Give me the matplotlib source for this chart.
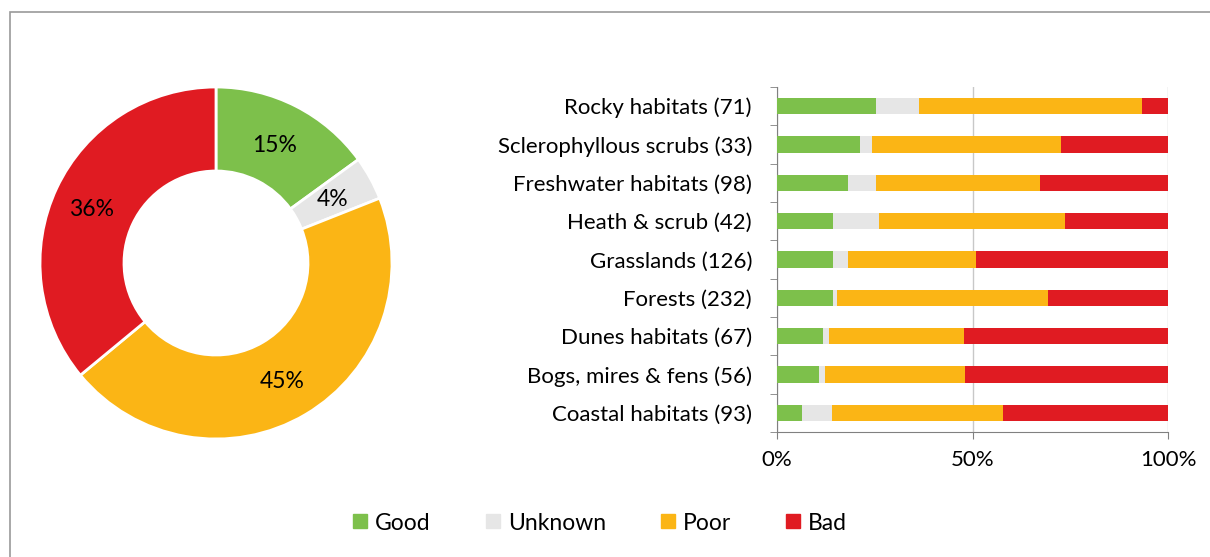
import matplotlib.pyplot as plt
import numpy as np
from matplotlib.patches import Rectangle

# overall status shares (donut)
status = ['Good', 'Unknown', 'Poor', 'Bad']
overall = [15, 4, 45, 36]
colors = ['#7dc04b', '#e6e6e6', '#fbb515', '#e01b22']

# habitat groups, top to bottom
habitats = ['Rocky habitats (71)', 'Sclerophyllous scrubs (33)', 'Freshwater habitats (98)',
            'Heath & scrub (42)', 'Grasslands (126)', 'Forests (232)', 'Dunes habitats (67)',
            'Bogs, mires & fens (56)', 'Coastal habitats (93)']
good = [25.3, 21.2, 18.2, 14.3, 14.3, 14.3, 11.8, 10.7, 6.4]
unknown = [11.0, 3.1, 7.1, 11.8, 3.9, 1.0, 1.5, 1.6, 7.7]
poor = [57.0, 48.3, 42.0, 47.6, 32.7, 54.0, 34.5, 35.8, 43.7]
bad = [6.7, 27.4, 32.7, 26.3, 49.1, 30.7, 52.2, 51.9, 42.2]

plt.rcParams['font.family'] = ['Lato', 'DejaVu Sans']

fig = plt.figure(figsize=(12.1, 5.57), dpi=100)
W, H = 1210, 557

# frame around the figure
fig.add_artist(Rectangle((10 / W, -0.1), 1.2, 1.1 - 12 / H, transform=fig.transFigure,
                         fill=False, edgecolor='#9a9a9a', linewidth=1.2))

# donut
ax1 = fig.add_axes([(216 - 180) / W, 1 - (263 + 180) / H, 360 / W, 360 / H])
wedges, _ = ax1.pie(overall, colors=colors, startangle=90, counterclock=False,
                    radius=176 / 180, wedgeprops=dict(width=84 / 180, edgecolor='white', linewidth=2))
label_pos = [(275, 145), (333, 200), (282, 381), (92, 210)]
for (px, py), v in zip(label_pos, overall):
    ax1.text((px - 216) / 180, (263 - py) / 180, f'{v}%', ha='center', va='center', fontsize=16.5)
ax1.set_xlim(-1, 1)
ax1.set_ylim(-1, 1)
ax1.set_aspect('equal')

# stacked bars
ax2 = fig.add_axes([777 / W, 1 - 432 / H, (1168 - 777) / W, (432 - 87) / H])
y = np.arange(len(habitats))
left = np.zeros(len(habitats))
for name, vals, c in zip(status, [good, unknown, poor, bad], colors):
    ax2.barh(y, vals, left=left, height=0.42, color=c, label=name, zorder=3)
    left += np.array(vals)

ax2.set_ylim(len(habitats) - 0.5, -0.5)
ax2.set_xlim(0, 100)
ax2.set_yticks(y)
ax2.set_yticklabels(habitats, fontsize=16)
ax2.set_yticks(np.arange(-0.5, len(habitats)), minor=True)
ax2.tick_params(axis='y', which='major', length=0, pad=18)
ax2.tick_params(axis='y', which='minor', length=5, color='#808080')
ax2.set_xticks([0, 50, 100])
ax2.set_xticklabels(['0%', '50%', '100%'], fontsize=16)
ax2.tick_params(axis='x', length=5, color='#808080', pad=8)
ax2.grid(axis='x', color='#c8c8c8', linewidth=1, zorder=0)
for s in ['top', 'right']:
    ax2.spines[s].set_visible(False)
for s in ['left', 'bottom']:
    ax2.spines[s].set_color('#808080')

handles = [plt.Line2D([], [], marker='s', linestyle='', markersize=10, color=c) for c in colors]
fig.legend(handles, status, loc='center', bbox_to_anchor=(600 / W, 1 - 523 / H), ncol=4,
           frameon=False, fontsize=16.5, handlelength=0.6, handletextpad=0.35, columnspacing=2.4)

fig.savefig('out.png', dpi=100)
